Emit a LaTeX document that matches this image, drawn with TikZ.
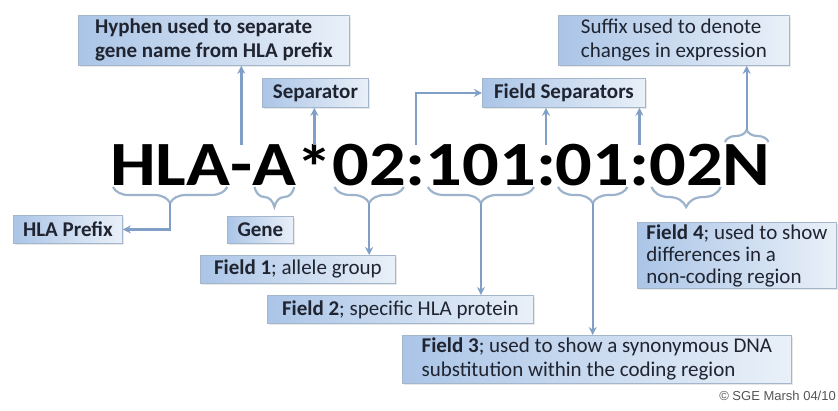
\documentclass[tikz,border=0pt]{standalone}
\usepackage{fontspec}
\setmainfont{Carlito}
\newfontfamily\bigfont{Carlito}[FakeStretch=1.15]
\newfontfamily\copyfont{Liberation Sans}
\usetikzlibrary{arrows.meta, positioning, calc, decorations.pathreplacing, shadows}
\definecolor{lblblue}{HTML}{ABC5E7}
\definecolor{lblwhite}{HTML}{E9F0F8}
\definecolor{lblline}{HTML}{A3B6CC}
\definecolor{arrblue}{HTML}{7F9FC6}
\definecolor{brcblue}{HTML}{9DB3CB}
\definecolor{textdark}{HTML}{1F2430}
\definecolor{copygray}{HTML}{555555}

\begin{document}
\begin{tikzpicture}[
  x=1bp, y=-1bp,
  infobox/.style={rectangle, draw=lblline, line width=0.8bp, left color=lblblue, right color=lblwhite, text=textdark, font=\fontsize{21bp}{24bp}\selectfont, align=left, inner xsep=7bp, inner ysep=2bp, anchor=north west, drop shadow={shadow xshift=1.2bp, shadow yshift=-1.2bp, fill=black!18}},
  strong/.style={font=\fontsize{21bp}{24bp}\selectfont\bfseries},
  hla/.style={font=\bigfont\bfseries\fontsize{63bp}{63bp}\selectfont, inner sep=0pt, outer sep=0pt, text height=40bp, text depth=0pt, anchor=base west},
  arrow/.style={-{Stealth[length=8bp, width=8bp]}, line width=2.4bp, color=arrblue},
  curly/.style={decorate, decoration={brace, amplitude=16bp, raise=2bp}, line width=2.2bp, color=brcblue}
]
  \useasboundingbox (0,0) rectangle (838,410);

  \node[hla] (pre) at (110,185) {HLA};
  \node[hla] (hy) at (pre.base east) {-};
  \node[hla] (gen) at (hy.base east) {A};
  \node[hla] (st) at (gen.base east) {\raisebox{-4bp}{*}};
  \node[hla] (fa) at (st.base east) {02};
  \node[hla] (ca) at (fa.base east) {:};
  \node[hla] (fb) at (ca.base east) {101};
  \node[hla] (cb) at (fb.base east) {:};
  \node[hla] (fc) at (cb.base east) {01};
  \node[hla] (cc) at (fc.base east) {:};
  \node[hla] (fd) at (cc.base east) {02};
  \node[hla] (sx) at (fd.base east) {N};

  \node[infobox, strong, minimum width=271bp, minimum height=50bp] (hyph) at (78,15) {Hyphen used to separate\\gene name from HLA prefix};
  \node[infobox, strong, minimum width=106bp, minimum height=29bp] (sep) at (262,78) {Separator};
  \node[infobox, strong, minimum width=163bp, minimum height=29bp] (fsep) at (482,78) {Field Separators};
  \node[infobox, minimum width=231bp, minimum height=50bp] (suffix) at (558,15) {Suffix used to denote\\changes in expression};
  \node[infobox, strong, minimum width=109bp, minimum height=28bp] (prefix) at (13,215) {HLA Prefix};
  \node[infobox, strong, minimum width=66bp, minimum height=27bp] (gene) at (227,216) {Gene};
  \node[infobox, minimum width=195bp, minimum height=28bp] (f1) at (200,255) {\textbf{Field 1}; allele group};
  \node[infobox, minimum width=266bp, minimum height=28bp] (f2) at (267,295) {\textbf{Field 2}; specific HLA protein};
  \node[infobox, minimum width=389bp, minimum height=48bp] (f3) at (402,335) {\textbf{Field 3}; used to show a synonymous DNA\\substitution within the coding region};
  \node[infobox, font=\fontsize{21bp}{22bp}\selectfont, minimum width=199bp, minimum height=66bp] (f4) at (637,222) {\textbf{Field 4}; used to show\\differences in a\\non-coding region};

  \node[font=\copyfont\fontsize{13bp}{13bp}\selectfont, text=copygray, anchor=east, inner sep=1bp] (copy) at (837,396) {© SGE Marsh 04/10};

  \coordinate (preTip) at ([yshift=-18bp]pre.south);
  \coordinate (faTip) at ([yshift=-18bp]fa.south);
  \coordinate (fbTip) at ([yshift=-18bp]fb.south);
  \coordinate (fcTip) at ([yshift=-18bp]fc.south);
  \coordinate (sxTip) at ([yshift=15bp]sx.north);

  \draw[curly] ([xshift=-3bp]pre.south east) -- ([xshift=3bp]pre.south west);
  \draw[curly, decoration={amplitude=20bp}] ([xshift=-2bp]gen.south east) -- ([xshift=2bp]gen.south west);
  \draw[curly] ([xshift=-2bp]fa.south east) -- ([xshift=2bp]fa.south west);
  \draw[curly] ([xshift=-2bp]fb.south east) -- ([xshift=2bp]fb.south west);
  \draw[curly] ([xshift=-2bp]fc.south east) -- ([xshift=2bp]fc.south west);
  \draw[curly, decoration={amplitude=20bp}] ([xshift=-2bp]fd.south east) -- ([xshift=2bp]fd.south west);
  \draw[curly, decoration={amplitude=12bp, raise=3bp}] ([xshift=2bp]sx.north west) -- ([xshift=-2bp]sx.north east);

  \draw[arrow] (preTip) |- (prefix.east);
  \draw[arrow] (faTip) -- (faTip |- f1.north);
  \draw[arrow] (fbTip) -- (fbTip |- f2.north);
  \draw[arrow] (fcTip) -- (fcTip |- f3.north);
  \draw[arrow] (hy.north) -- (hy.north |- hyph.south);
  \draw[arrow] (st.north) -- (st.north |- sep.south);
  \draw[arrow] (ca.north) |- (fsep.west);
  \draw[arrow] (cb.north) -- (cb.north |- fsep.south);
  \draw[arrow] (cc.north) -- (cc.north |- fsep.south);
  \draw[arrow] (sxTip) -- (sxTip |- suffix.south);
\end{tikzpicture}
\end{document}
